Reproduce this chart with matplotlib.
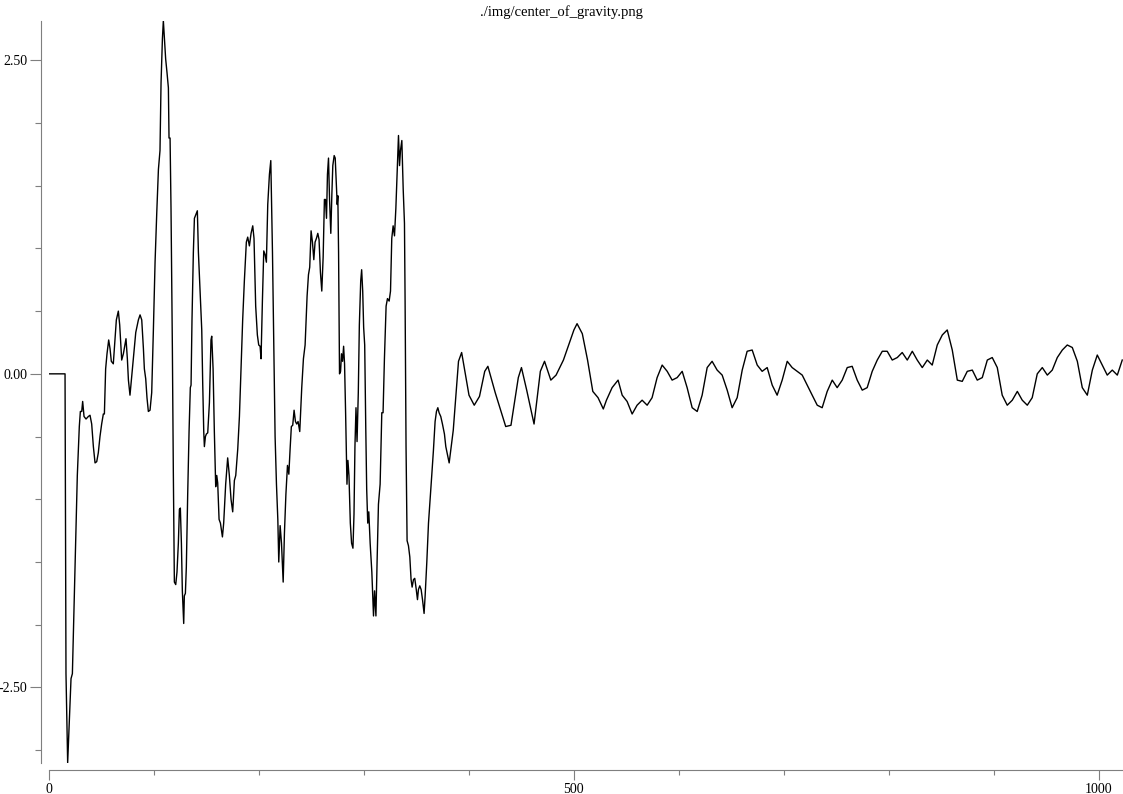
import matplotlib
matplotlib.use("Agg")
import matplotlib.pyplot as plt
import numpy as np

plt.rcParams["font.family"] = ["Liberation Serif", "DejaVu Serif"]

# values (sample index, value)
# flat start and the big swings
burst_x = [0, 15.0, 15.9, 17.5, 20.7, 22.0, 24.5, 26.7, 28.6, 29.6, 30.9, 31.8, 33.1, 35.0, 37.2,
           38.8, 40.4, 42.0, 43.6, 45.2, 46.7, 48.3, 49.9, 51.5, 52.5, 53.7, 55.0, 56.6, 57.9, 59.1,
           61.0, 62.6, 63.9, 65.8, 67.1, 69.0, 70.6, 72.2, 73.1, 74.4, 75.4, 76.9, 80.1, 82.4, 84.9,
           86.5, 88.1, 89.7, 90.6, 91.9, 93.1, 94.4, 96.0, 97.6, 99.2, 100.8, 102.4, 104.0, 105.5,
           106.5, 107.8, 108.7, 109.7, 110.9, 112.2, 113.5, 114.1, 115.1, 116.0, 117.3, 118.2, 119.2,
           120.5, 121.7, 123.0, 124.0, 124.9, 125.9, 126.8, 128.1, 128.7, 129.7, 130.6, 131.9, 133.2,
           134.4, 135.1, 136.0, 137.3, 138.3, 139.2, 140.2, 141.1, 142.1, 143.7, 145.3, 146.2, 147.2,
           147.8, 148.8, 149.7, 151.0, 152.6, 154.1, 154.8, 156.1, 157.3, 158.6, 159.6, 160.5, 161.8,
           163.1, 165.0, 166.2, 168.1, 170.0, 171.6, 173.2, 174.8, 176.4, 177.7, 179.6, 181.2, 182.7,
           184.3, 185.9, 187.8, 189.1, 190.7, 192.3, 193.9, 195.1, 196.7, 198.3, 199.6, 200.9, 201.8,
           203.1, 204.4, 205.7, 206.9, 208.2, 209.8, 211.1, 212.7, 213.9, 215.2, 216.5, 217.8, 218.7,
           220.0, 221.3, 222.9, 224.1, 225.5, 227.0, 228.3, 229.5, 230.7, 232.0, 233.3, 234.6, 235.8,
           237.1, 238.7, 240.6, 242.2, 243.8, 245.7, 247.0, 248.2, 249.5, 250.8, 252.1, 253.3, 254.6,
           255.9, 257.1, 258.4, 259.7, 261.0, 262.2, 263.2, 264.2, 265.1, 266.1, 267.1, 268.3, 269.3,
           270.2, 271.5, 272.5, 273.4, 274.4, 275.0, 275.7, 276.6, 277.6, 278.5, 279.5, 280.5, 281.4,
           282.4, 283.7, 284.6, 285.6, 286.9, 288.1, 289.4, 290.4, 291.3, 292.3, 293.3, 294.5, 295.5,
           296.8, 297.7, 298.7, 299.6, 300.6, 301.6, 302.5, 303.5, 304.5, 305.8, 307.4, 309.0, 310.0,
           311.3, 312.4, 313.7, 315.3, 316.9, 318.1, 319.4, 321.0, 322.3, 323.9, 325.2, 326.4, 327.7,
           329.0, 330.3, 331.5, 332.8, 333.8, 334.7, 336.0, 337.3, 338.5, 339.1, 340.0, 341.0, 342.3,
           343.6, 344.8, 345.8, 347.1, 348.3, 349.6, 350.9, 351.8, 353.1, 354.4, 355.7, 357.2, 358.2,
           359.8, 361.4, 363.0, 364.5, 366.1, 367.7, 369.0, 370.3, 371.5, 373.1, 374.7, 376.6, 377.9,
           378.9, 381.1]
burst_y = [0.0, 0.0, -2.39, -3.10, -2.43, -2.39, -1.54, -0.81, -0.42, -0.30, -0.30, -0.22, -0.34, -0.36, -0.34,
           -0.33, -0.40, -0.58, -0.71, -0.70, -0.63, -0.50, -0.40, -0.32, -0.32, 0.04, 0.16, 0.27, 0.20, 0.10,
           0.08, 0.27, 0.43, 0.50, 0.39, 0.11, 0.16, 0.24, 0.28, 0.12, -0.05, -0.17, 0.12, 0.33, 0.43,
           0.47, 0.43, 0.20, 0.04, -0.04, -0.19, -0.30, -0.29, -0.15, 0.35, 0.89, 1.28, 1.63, 1.78,
           2.32, 2.67, 2.815, 2.67, 2.51, 2.40, 2.28, 1.88, 1.88, 1.32, 0.20, -0.77, -1.66,
           -1.68, -1.58, -1.35, -1.08, -1.07, -1.35, -1.73, -1.99, -1.77, -1.75, -1.54, -0.96, -0.46,
           -0.11, -0.09, 0.43, 0.97, 1.24, 1.26, 1.28, 1.30, 0.97, 0.66, 0.35, -0.07, -0.46,
           -0.58, -0.50, -0.48, -0.47, -0.23, 0.27, 0.30, 0.04, -0.46, -0.90, -0.81, -0.87, -1.16,
           -1.19, -1.30, -1.19, -0.88, -0.67, -0.81, -1.00, -1.10, -0.85, -0.81, -0.60, -0.34, 0.04,
           0.43, 0.74, 1.05, 1.09, 1.02, 1.12, 1.18, 1.08, 0.54, 0.31, 0.23, 0.22, 0.12,
           0.58, 0.98, 0.95, 0.89, 1.35, 1.59, 1.70, 0.97, 0.27, -0.50, -0.88, -1.16, -1.50,
           -1.21, -1.35, -1.66, -1.27, -0.96, -0.73, -0.80, -0.60, -0.42, -0.41, -0.29, -0.38, -0.40,
           -0.38, -0.46, -0.11, 0.12, 0.23, 0.62, 0.79, 0.85, 1.14, 1.05, 0.91, 1.05, 1.08,
           1.12, 1.07, 0.81, 0.66, 0.93, 1.39, 1.39, 1.24, 1.59, 1.72, 1.39, 1.12, 1.43,
           1.66, 1.74, 1.72, 1.55, 1.35, 1.42, 0.97, 0.00, 0.02, 0.16, 0.10, 0.22, 0.08,
           -0.31, -0.88, -0.69, -0.81, -1.19, -1.35, -1.39, -1.12, -0.58, -0.27, -0.54, -0.15, 0.39,
           0.74, 0.83, 0.66, 0.37, 0.23, -0.42, -0.92, -1.19, -1.10, -1.35, -1.58, -1.93, -1.73,
           -1.93, -1.50, -1.04, -0.88, -0.31, -0.31, 0.12, 0.54, 0.60, 0.58, 0.66, 1.08, 1.18,
           1.10, 1.32, 1.59, 1.90, 1.66, 1.78, 1.86, 1.47, 1.20, 0.58, -0.58, -1.33, -1.37,
           -1.46, -1.64, -1.70, -1.64, -1.63, -1.71, -1.80, -1.72, -1.69, -1.72, -1.80, -1.91, -1.77,
           -1.50, -1.19, -1.00, -0.81, -0.61, -0.38, -0.30, -0.27, -0.31, -0.34, -0.40, -0.48, -0.58,
           -0.62, -0.71]

# settled part
tail_x = [385, 390, 393, 400, 405, 410, 415, 418, 425, 435, 440, 447, 450, 455, 462, 468, 472, 478,
          483, 490, 500, 503, 508, 513, 518, 523, 528, 531.0, 536.4, 542.1, 546.0, 550.7, 555.5,
          560.2, 565.0, 569.8, 574.5, 579.3, 584.1, 588.9, 593.6, 598.4, 603.2, 607.9, 612.7, 617.5,
          622.2, 627.0, 631.7, 636.5, 641.3, 646.1, 650.8, 655.6, 660.4, 665.1, 669.9, 674.7, 679.4,
          684.2, 689.0, 693.7, 698.5, 703.3, 708.0, 712.8, 717.6, 722.3, 727.1, 731.9, 736.6, 741.4,
          746.2, 750.9, 755.7, 760.5, 765.2, 770.0, 774.8, 779.5, 784.3, 789.1, 793.9, 798.6, 803.4,
          808.2, 812.9, 817.7, 822.5, 827.2, 832.0, 836.8, 841.5, 846.3, 851.1, 855.8, 860.6, 865.4,
          870.1, 874.9, 879.7, 884.4, 889.2, 894.0, 898.7, 903.5, 908.2, 913.0, 917.8, 922.6, 927.3,
          932.1, 936.8, 941.6, 946.4, 951.2, 955.9, 960.7, 965.5, 970.2, 975.0, 979.8, 984.5, 989.3,
          994.1, 998.8, 1003.6, 1008.3, 1013.1, 1017.9, 1022.6]
tail_y = [-0.45, 0.10, 0.17, -0.17, -0.25, -0.18, 0.02, 0.06, -0.15, -0.42, -0.41, -0.03, 0.05, -0.13,
          -0.40, 0.02, 0.10, -0.05, -0.01, 0.11, 0.35, 0.40, 0.32, 0.11, -0.14, -0.19, -0.28, -0.21,
          -0.11, -0.05, -0.17, -0.22, -0.32, -0.25, -0.21, -0.25, -0.19, -0.03, 0.07, 0.02, -0.05,
          -0.03, 0.02, -0.11, -0.27, -0.30, -0.17, 0.05, 0.10, 0.03, -0.01, -0.13, -0.27, -0.19,
          0.03, 0.18, 0.19, 0.07, 0.02, 0.05, -0.09, -0.17, -0.05, 0.10, 0.05, 0.02, -0.01, -0.09,
          -0.17, -0.25, -0.27, -0.14, -0.05, -0.11, -0.05, 0.05, 0.06, -0.05, -0.13, -0.11, 0.02,
          0.11, 0.18, 0.18, 0.11, 0.13, 0.17, 0.11, 0.18, 0.11, 0.05, 0.11, 0.07, 0.23, 0.31,
          0.35, 0.19, -0.05, -0.06, 0.02, 0.03, -0.05, -0.03, 0.11, 0.13, 0.05, -0.17, -0.25,
          -0.21, -0.14, -0.21, -0.25, -0.19, 0.00, 0.05, -0.01, 0.03, 0.13, 0.19, 0.23, 0.21,
          0.10, -0.11, -0.17, 0.03, 0.15, 0.07, -0.01, 0.03, -0.01, 0.11]

title = "./img/center_of_gravity.png"

x = np.array(burst_x + tail_x)
y = np.array(burst_y + tail_y)

fig = plt.figure(figsize=(11.23, 7.94), dpi=100)
ax = fig.add_axes([0.0439, 0.0394, 0.9558, 0.9345])

ax.plot(x, y, color="black", linewidth=1.0)

ax.set_xlim(0, 1023)
ax.set_ylim(y.min(), y.max())

grey = "#7f7f7f"
for side in ["top", "right"]:
    ax.spines[side].set_visible(False)
ax.spines["left"].set_position(("outward", 6))
ax.spines["bottom"].set_position(("outward", 5.3))
for side in ["left", "bottom"]:
    ax.spines[side].set_color(grey)
    ax.spines[side].set_linewidth(0.8)

ax.set_xticks([0, 500, 1000])
ax.set_xticks(np.arange(100, 1001, 100), minor=True)
ax.set_yticks([-2.5, 0, 2.5])
ax.set_yticklabels(["-2.50", "0.00", "2.50"])
ax.set_yticks(np.arange(-3.0, 2.51, 0.5), minor=True)

ax.tick_params(axis="both", which="both", color=grey, width=0.8, labelsize=10)
ax.tick_params(axis="y", which="major", length=8, pad=2)
ax.tick_params(axis="y", which="minor", length=4.3)
ax.tick_params(axis="x", which="major", length=7, pad=2)
ax.tick_params(axis="x", which="minor", length=3.6)

fig.text(0.5, 0.985, title, ha="center", va="center", fontsize=10.5)

fig.savefig("out.png", dpi=100)
